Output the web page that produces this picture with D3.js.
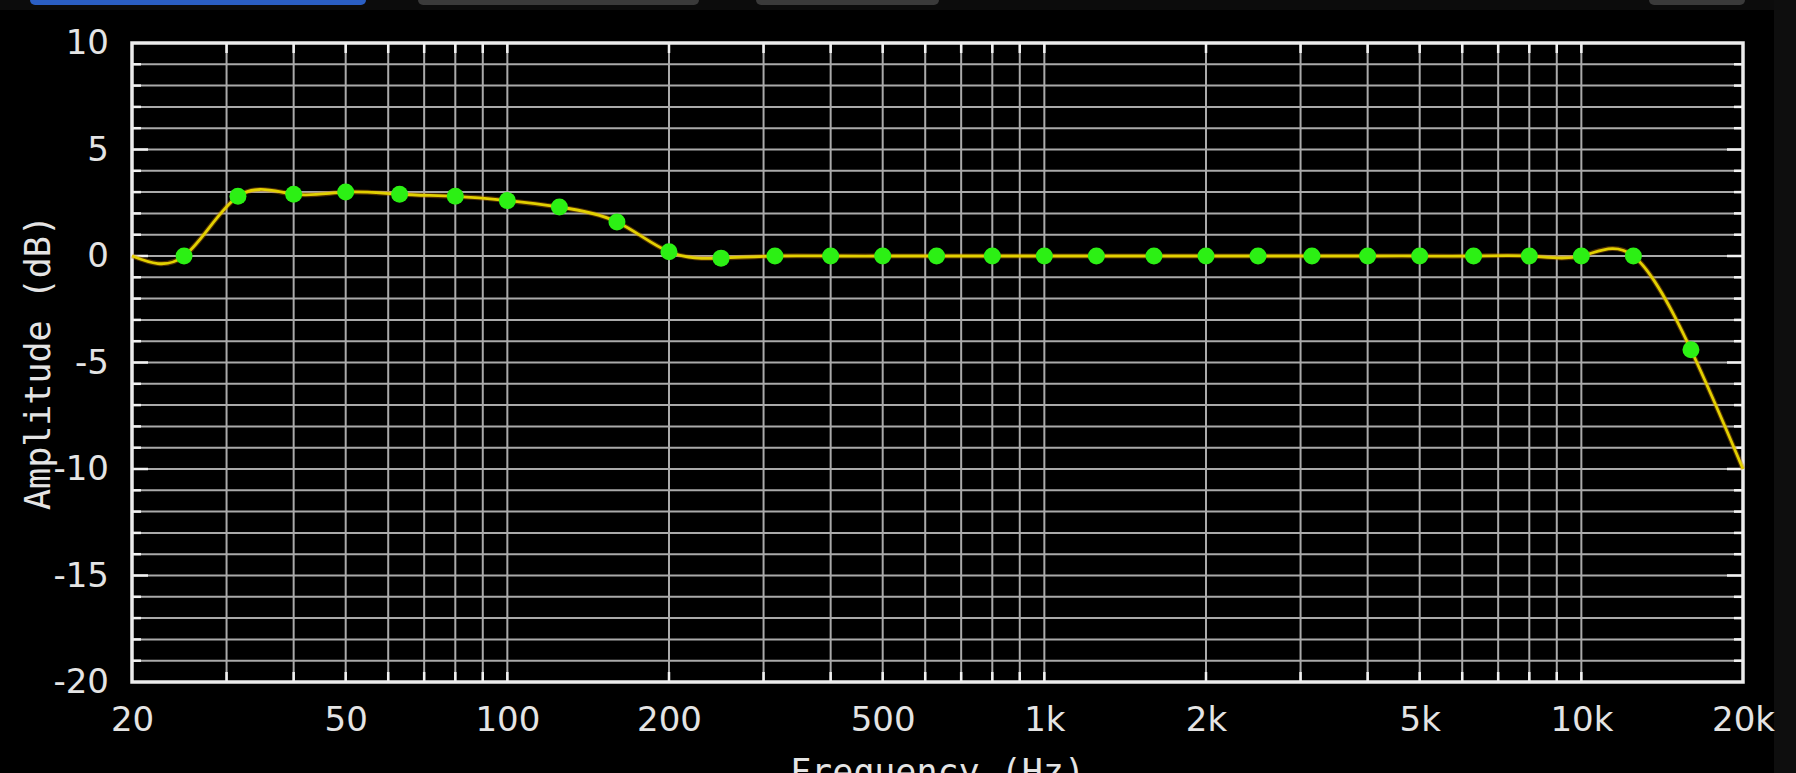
<!DOCTYPE html>
<html lang="en">
<head>
  <meta charset="UTF-8">
  <title>Amplitude response</title>
  <script src="https://d3js.org/d3.v7.min.js"></script>
  <style>
    html, body {
      margin: 0;
      padding: 0;
      background: #000;
      overflow: hidden;
    }
    .tick-label text {
      font: 34px "DejaVu Sans", sans-serif;
      fill: #e4e4e4;
    }
    .axis-title {
      font: 35px "DejaVu Sans Mono", monospace;
      fill: #e4e4e4;
    }
  </style>
</head>
<body>
  <script>
    // 1/3-octave band centres (Hz) and the gain read at each band (dB)
    const bandFreqs = [25, 31.5, 40, 50, 63, 80, 100, 125, 160, 200, 250, 315, 400, 500, 630, 800,
      1000, 1250, 1600, 2000, 2500, 3150, 4000, 5000, 6300, 8000, 10000, 12500, 16000];
    const bandGains = [0, 2.8, 2.9, 3.0, 2.9, 2.8, 2.6, 2.3, 1.6, 0.2, -0.1, 0, 0, 0, 0, 0,
      0, 0, 0, 0, 0, 0, 0, 0, 0, 0, 0, 0, -4.4];

    // where the curve meets the plot edges
    const edgeFreqs = [20, 20000];
    const edgeGains = [0, -10];

    const xTickValues = [20, 50, 100, 200, 500, 1000, 2000, 5000, 10000, 20000];
    const xTickLabels = ["20", "50", "100", "200", "500", "1k", "2k", "5k", "10k", "20k"];
    const yTickValues = [-20, -15, -10, -5, 0, 5, 10];

    const W = 1796, H = 773;
    const margin = { top: 43, right: 53, bottom: 91, left: 132 };
    const iw = W - margin.left - margin.right;
    const ih = H - margin.top - margin.bottom;

    const svg = d3.select("body").append("svg")
      .attr("width", W)
      .attr("height", H)
      .style("display", "block");

    // bits of the app chrome around the plot
    svg.append("rect").attr("width", W).attr("height", 10).attr("fill", "#0c0c0c");
    svg.append("rect").attr("x", 1774).attr("width", W - 1774).attr("height", H).attr("fill", "#0e0e0e");
    const tabs = [
      { x: 30, w: 336, c: "#2b5fc4" },
      { x: 418, w: 281, c: "#3a3a3a" },
      { x: 756, w: 183, c: "#3a3a3a" },
      { x: 1649, w: 96, c: "#3a3a3a" }
    ];
    svg.selectAll("rect.tab")
      .data(tabs)
      .join("rect")
      .attr("class", "tab")
      .attr("x", d => d.x)
      .attr("y", -20)
      .attr("width", d => d.w)
      .attr("height", 25)
      .attr("rx", 5)
      .attr("fill", d => d.c);

    const g = svg.append("g").attr("transform", `translate(${margin.left},${margin.top})`);

    const x = d3.scaleLog().domain([20, 20000]).range([0, iw]);
    const y = d3.scaleLinear().domain([-20, 10]).range([ih, 0]);

    const gridX = x.ticks().filter(f => f > 20 && f < 20000);
    const gridY = y.ticks(30).filter(v => v > -20 && v < 10);

    // grid
    g.append("g").selectAll("line")
      .data(gridX)
      .join("line")
      .attr("x1", d => x(d)).attr("x2", d => x(d))
      .attr("y1", 0).attr("y2", ih)
      .attr("stroke", "#aaaaaa")
      .attr("stroke-width", 2);

    g.append("g").selectAll("line")
      .data(gridY)
      .join("line")
      .attr("x1", 0).attr("x2", iw)
      .attr("y1", d => y(d)).attr("y2", d => y(d))
      .attr("stroke", "#aaaaaa")
      .attr("stroke-width", 2);

    // inward tick marks on all four sides
    const ticks = g.append("g").attr("stroke", "#f2f2f2").attr("stroke-width", 2.5);
    ticks.selectAll("line.xb")
      .data(gridX)
      .join("line")
      .attr("class", "xb")
      .attr("x1", d => x(d)).attr("x2", d => x(d))
      .attr("y1", ih).attr("y2", ih - 10);
    ticks.selectAll("line.xt")
      .data(gridX)
      .join("line")
      .attr("class", "xt")
      .attr("x1", d => x(d)).attr("x2", d => x(d))
      .attr("y1", 0).attr("y2", 10);
    ticks.selectAll("line.yl")
      .data(gridY)
      .join("line")
      .attr("class", "yl")
      .attr("x1", 0).attr("x2", d => (d % 5 === 0 ? 16 : 9))
      .attr("y1", d => y(d)).attr("y2", d => y(d));
    ticks.selectAll("line.yr")
      .data(gridY)
      .join("line")
      .attr("class", "yr")
      .attr("x1", iw).attr("x2", d => iw - (d % 5 === 0 ? 16 : 9))
      .attr("y1", d => y(d)).attr("y2", d => y(d));

    // frame
    g.append("rect")
      .attr("width", iw)
      .attr("height", ih)
      .attr("fill", "none")
      .attr("stroke", "#ececec")
      .attr("stroke-width", 3.5);

    // tick labels
    const xAxis = g.append("g")
      .attr("class", "tick-label")
      .attr("transform", `translate(0,${ih})`)
      .call(d3.axisBottom(x)
        .tickValues(xTickValues)
        .tickSize(0)
        .tickPadding(25)
        .tickFormat((d, i) => xTickLabels[i]));
    xAxis.select(".domain").remove();

    const yAxis = g.append("g")
      .attr("class", "tick-label")
      .call(d3.axisLeft(y)
        .tickValues(yTickValues)
        .tickSize(0)
        .tickPadding(23)
        .tickFormat(d => String(d)));
    yAxis.select(".domain").remove();
    g.selectAll(".tick-label text").attr("font-size", null).attr("font-family", null);

    // axis titles
    g.append("text")
      .attr("class", "axis-title")
      .attr("transform", `translate(${50 - margin.left},${ih / 2}) rotate(-90)`)
      .attr("text-anchor", "middle")
      .text("Amplitude (dB)");

    g.append("text")
      .attr("class", "axis-title")
      .attr("x", iw / 2)
      .attr("y", ih + 102)
      .attr("text-anchor", "middle")
      .text("Frequency (Hz)");

    // response curve through the band points
    const curvePts = [{ f: edgeFreqs[0], v: edgeGains[0] }]
      .concat(bandFreqs.map((f, i) => ({ f, v: bandGains[i] })))
      .concat([{ f: edgeFreqs[1], v: edgeGains[1] }]);

    const line = d3.line()
      .x(d => x(d.f))
      .y(d => y(d.v))
      .curve(d3.curveNatural);

    g.append("path")
      .datum(curvePts)
      .attr("d", line)
      .attr("fill", "none")
      .attr("stroke", "#c87800")
      .attr("stroke-opacity", 0.4)
      .attr("stroke-width", 5);

    g.append("path")
      .datum(curvePts)
      .attr("d", line)
      .attr("fill", "none")
      .attr("stroke", "#e2d000")
      .attr("stroke-width", 2.8);

    g.append("g").selectAll("circle")
      .data(bandFreqs)
      .join("circle")
      .attr("cx", d => x(d))
      .attr("cy", (d, i) => y(bandGains[i]))
      .attr("r", 8.5)
      .attr("fill", "#2cf014");
  </script>
</body>
</html>
